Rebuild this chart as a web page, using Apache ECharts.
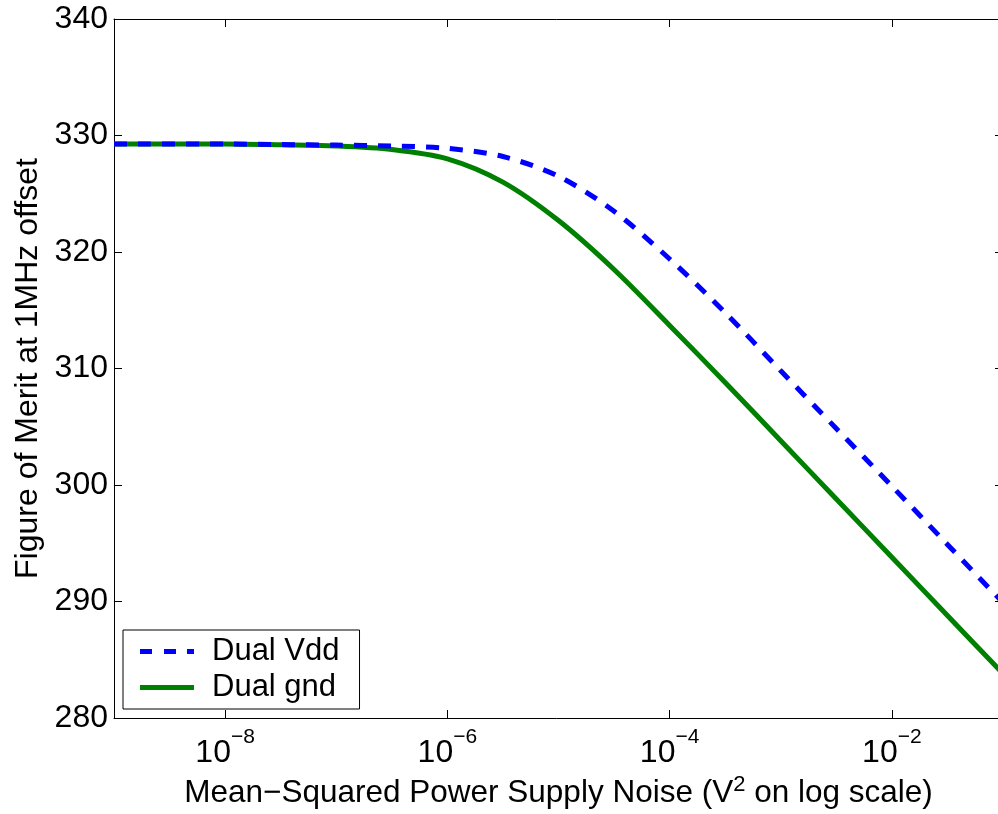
<!DOCTYPE html>
<html>
<head>
<meta charset="utf-8">
<script src="https://cdn.jsdelivr.net/npm/echarts@6/dist/echarts.min.js"></script>
<style>
  html, body { margin: 0; padding: 0; background: #fff; }
  #chart { width: 998px; height: 814px; }
</style>
</head>
<body>
<div id="chart"></div>
<script>
// noise (V^2), read at half-decade steps
const noise = [1e-9, 1e-8, 3.16e-8, 1e-7, 3.16e-7, 1e-6, 3.16e-6, 1e-5, 3.16e-5,
  1e-4, 3.16e-4, 1e-3, 3.16e-3, 1e-2, 3.16e-2, 1e-1]
const dualVdd = [329.27, 329.27, 329.22, 329.18, 329.1, 328.9, 328.2, 326.5, 323.5,
  319.4, 314.8, 309.8, 304.85, 299.9, 294.9, 289.9]
const dualGnd = [329.27, 329.27, 329.2, 329.1, 328.8, 328.0, 326.0, 322.7, 318.5,
  313.7, 308.8, 303.8, 298.8, 293.8, 288.8, 283.8]
const yTicks = [280, 290, 300, 310, 320, 330, 340]
const xTicks = [1e-8, 1e-6, 1e-4, 1e-2]

const FONT = 'Liberation Sans, Arial, Helvetica, sans-serif'

function pairs(xs, ys) {
  return xs.map((x, i) => [x, ys[i]])
}

let chart = echarts.init(document.getElementById('chart'))

let axisLine = { show: true, onZero: false, lineStyle: { color: '#000', width: 1 } }
let tick = { show: true, inside: true, length: 8, customValues: xTicks, lineStyle: { color: '#000', width: 1 } }
let yTick = { show: true, inside: true, length: 8, lineStyle: { color: '#000', width: 1 } }

let xBase = {
  type: 'log',
  logBase: 10,
  min: 1e-9,
  max: 1e-1,
  axisLine: axisLine,
  axisTick: tick,
  splitLine: { show: false },
  minorTick: { show: false }
}

let option = {
  animation: false,
  backgroundColor: '#fff',
  // plot box runs a few px past the right edge of the canvas
  grid: { left: 114, top: 19, width: 889, bottom: 96, containLabel: false, outerBoundsMode: 'none' },
  xAxis: [
    Object.assign({}, xBase, {
      position: 'bottom',
      name: '{a|Mean\u2212Squared Power Supply Noise (V}{s|2}{a| on log scale)}',
      nameLocation: 'middle',
      nameGap: 56,
      nameTextStyle: {
        rich: {
          a: { fontFamily: FONT, fontSize: 31.5, color: '#000' },
          s: { fontFamily: FONT, fontSize: 22, color: '#000', padding: [0, 0, 16, 0] }
        }
      },
      axisLabel: {
        show: true,
        margin: 9,
        customValues: xTicks,
        formatter: function (v) {
          let e = Math.round(Math.log10(v))
          return '{b|10}{e|\u2212' + Math.abs(e) + '}'
        },
        rich: {
          b: { fontFamily: FONT, fontSize: 32, color: '#000' },
          e: { fontFamily: FONT, fontSize: 21, color: '#000', padding: [0, 0, 32, 0] }
        }
      }
    }),
    Object.assign({}, xBase, {
      position: 'top',
      axisLabel: { show: false }
    })
  ],
  yAxis: [
    {
      type: 'value',
      min: yTicks[0],
      max: yTicks[yTicks.length - 1],
      interval: 10,
      position: 'left',
      axisLine: axisLine,
      axisTick: yTick,
      splitLine: { show: false },
      axisLabel: { margin: 6, fontFamily: FONT, fontSize: 32, color: '#000' },
      name: 'Figure of Merit at 1MHz offset',
      nameLocation: 'middle',
      nameGap: 69,
      nameTextStyle: { fontFamily: FONT, fontSize: 32, color: '#000' }
    },
    {
      type: 'value',
      min: yTicks[0],
      max: yTicks[yTicks.length - 1],
      interval: 10,
      position: 'right',
      axisLine: axisLine,
      axisTick: yTick,
      splitLine: { show: false },
      axisLabel: { show: false }
    }
  ],
  legend: {
    orient: 'vertical',
    left: 123,
    top: 630,
    backgroundColor: '#fff',
    borderColor: '#000',
    borderWidth: 1,
    borderRadius: 0,
    padding: [6, 20, 6, 17],
    itemGap: 5,
    itemWidth: 54,
    itemHeight: 5,
    symbolKeepAspect: false,
    textStyle: { fontFamily: FONT, fontSize: 31, color: '#000', lineHeight: 31, padding: [0, 0, 0, 13] },
    data: [
      { name: 'Dual Vdd', icon: 'path://M0,0 L12,0 L12,1 L0,1 Z M24,0 L36,0 L36,1 L24,1 Z M47,0 L54,0 L54,1 L47,1 Z', itemStyle: { color: '#0000ff' } },
      { name: 'Dual gnd', icon: 'rect', itemStyle: { color: '#008000' } }
    ]
  },
  series: [
    {
      name: 'Dual Vdd',
      type: 'line',
      data: pairs(noise, dualVdd),
      showSymbol: false,
      symbol: 'none',
      smooth: 0.3,
      lineStyle: { color: '#0000ff', width: 5, type: [13, 11] },
      itemStyle: { color: '#0000ff' },
      z: 3
    },
    {
      name: 'Dual gnd',
      type: 'line',
      data: pairs(noise, dualGnd),
      showSymbol: false,
      symbol: 'none',
      smooth: 0.3,
      lineStyle: { color: '#008000', width: 5 },
      itemStyle: { color: '#008000' },
      z: 2
    }
  ]
}

chart.setOption(option)
</script>
</body>
</html>
